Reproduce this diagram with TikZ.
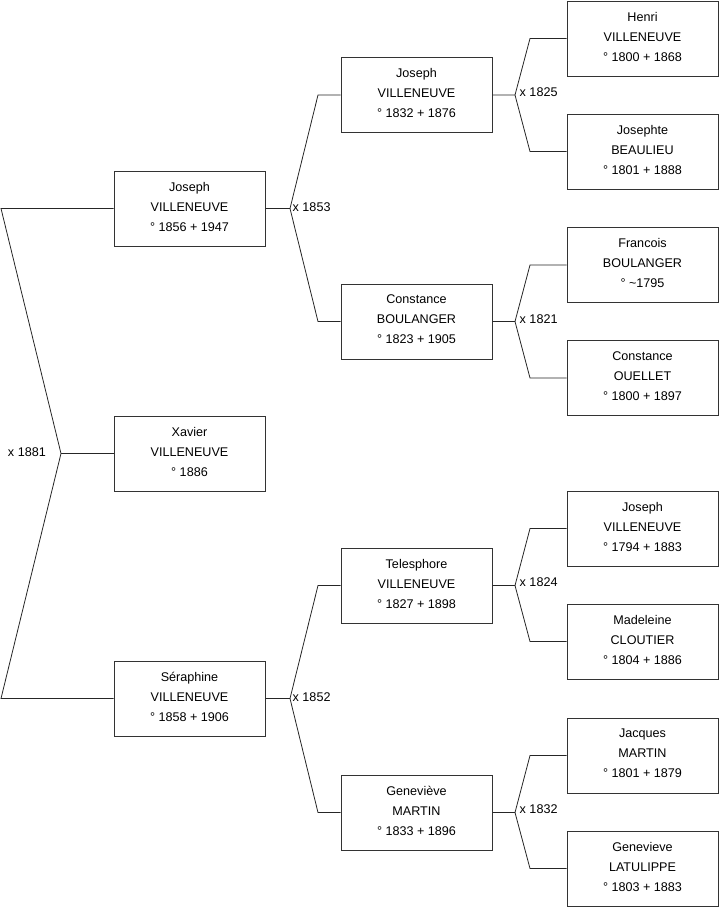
\documentclass[tikz,border=0pt]{standalone}
\usepackage{fontspec}
\setmainfont{Liberation Sans}
\begin{document}
\begin{tikzpicture}[x=1pt,y=-1pt,
  person/.style={draw=black!80, line width=1pt, fill=white, minimum width=151pt, minimum height=75pt, align=center, font=\fontsize{12.6}{20}\selectfont, inner sep=0pt, text depth=4pt},
  link/.style={draw=black!85, line width=0.8pt},
  lbl/.style={font=\fontsize{12.6}{15}\selectfont, inner sep=0pt}]
\useasboundingbox (0,0) rectangle (719,908);
% column 1
\node[person] (a1) at (189.5,208.5) {Joseph\\VILLENEUVE\\° 1856 + 1947};
\node[person] (a2) at (189.5,453.5) {Xavier\\VILLENEUVE\\° 1886};
\node[person] (a3) at (189.5,698.5) {Séraphine\\VILLENEUVE\\° 1858 + 1906};
% column 2
\node[person] (b1) at (416.5,95) {Joseph\\VILLENEUVE\\° 1832 + 1876};
\node[person] (b2) at (416.5,321.5) {Constance\\BOULANGER\\° 1823 + 1905};
\node[person] (b3) at (416.5,585.5) {Telesphore\\VILLENEUVE\\° 1827 + 1898};
\node[person] (b4) at (416.5,812.5) {Geneviève\\MARTIN\\° 1833 + 1896};
% column 3
\node[person] (c1) at (642.5,38.5) {Henri\\VILLENEUVE\\° 1800 + 1868};
\node[person] (c2) at (642.5,151.5) {Josephte\\BEAULIEU\\° 1801 + 1888};
\node[person] (c3) at (642.5,265) {Francois\\BOULANGER\\° \textasciitilde1795};
\node[person] (c4) at (642.5,378) {Constance\\OUELLET\\° 1800 + 1897};
\node[person] (c5) at (642.5,528.5) {Joseph\\VILLENEUVE\\° 1794 + 1883};
\node[person] (c6) at (642.5,641.5) {Madeleine\\CLOUTIER\\° 1804 + 1886};
\node[person] (c7) at (642.5,755.5) {Jacques\\MARTIN\\° 1801 + 1879};
\node[person] (c8) at (642.5,868.5) {Genevieve\\LATULIPPE\\° 1803 + 1883};
% marriage 1881
\coordinate (m0) at (61,453.5);
\coordinate (m0t) at (1,208.5);
\coordinate (m0b) at (1,698.5);
\draw[link] (a1.west) -- (m0t) -- (m0) -- (m0b) -- (a3.west);
\draw[link] (m0) -- (a2.west);
\node[lbl, anchor=east] (l0) at (46,452) {x 1881};
% marriage 1853
\coordinate (v1) at (290,208.5);
\coordinate (v1t) at (318,95);
\coordinate (v1b) at (318,321.5);
\draw[link] (a1.east) -- (v1) -- (v1t) -- (b1.west);
\draw[link] (v1) -- (v1b) -- (b2.west);
\node[lbl, anchor=west] (l1) at (292.5,207.5) {x 1853};
% marriage 1852
\coordinate (v2) at (290,698.5);
\coordinate (v2t) at (318,585.5);
\coordinate (v2b) at (318,812.5);
\draw[link] (a3.east) -- (v2) -- (v2t) -- (b3.west);
\draw[link] (v2) -- (v2b) -- (b4.west);
\node[lbl, anchor=west] (l2) at (292.5,697.5) {x 1852};
% marriage 1825
\coordinate (v3) at (515,95);
\coordinate (v3t) at (530,38.5);
\coordinate (v3b) at (530,151.5);
\draw[link] (b1.east) -- (v3) -- (v3t) -- (c1.west);
\draw[link] (v3) -- (v3b) -- (c2.west);
\node[lbl, anchor=west] (l3) at (519.5,92) {x 1825};
% marriage 1821
\coordinate (v4) at (515,321.5);
\coordinate (v4t) at (530,265);
\coordinate (v4b) at (530,378);
\draw[link] (b2.east) -- (v4) -- (v4t) -- (c3.west);
\draw[link] (v4) -- (v4b) -- (c4.west);
\node[lbl, anchor=west] (l4) at (519.5,319) {x 1821};
% marriage 1824
\coordinate (v5) at (515,585.5);
\coordinate (v5t) at (530,528.5);
\coordinate (v5b) at (530,641.5);
\draw[link] (b3.east) -- (v5) -- (v5t) -- (c5.west);
\draw[link] (v5) -- (v5b) -- (c6.west);
\node[lbl, anchor=west] (l5) at (519.5,582) {x 1824};
% marriage 1832
\coordinate (v6) at (515,812.5);
\coordinate (v6t) at (530,755.5);
\coordinate (v6b) at (530,868.5);
\draw[link] (b4.east) -- (v6) -- (v6t) -- (c7.west);
\draw[link] (v6) -- (v6b) -- (c8.west);
\node[lbl, anchor=west] (l6) at (519.5,809) {x 1832};
\end{tikzpicture}
\end{document}
